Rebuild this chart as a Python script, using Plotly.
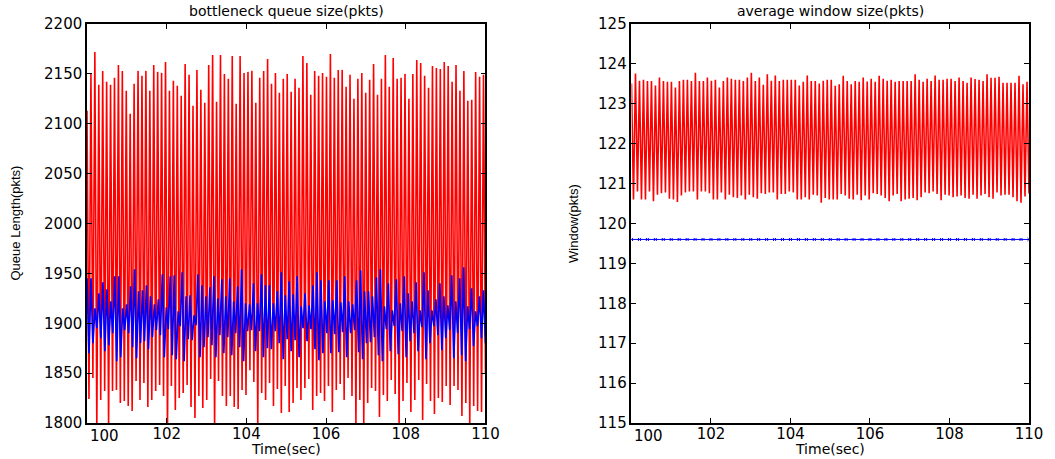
import plotly.graph_objects as go

# ---------------- data ----------------
# left panel: bottleneck queue, red series (peaks / troughs per ~0.1 s cycle)
queue_red_peaks = [2113, 2150, 2172, 2139, 2153, 2142, 2139, 2146, 2159, 2153, 2133, 2110, 2140, 2153, 2148,
                   2153, 2133, 2159, 2152, 2151, 2162, 2133, 2143, 2138, 2128, 2160, 2149, 2118, 2154, 2134,
                   2121, 2159, 2169, 2122, 2169, 2150, 2145, 2168, 2120, 2168, 2151, 2152, 2153, 2121, 2146,
                   2153, 2165, 2140, 2151, 2131, 2145, 2150, 2132, 2145, 2136, 2168, 2161, 2129, 2153, 2148,
                   2151, 2147, 2170, 2146, 2154, 2154, 2137, 2149, 2125, 2145, 2151, 2131, 2144, 2160, 2129,
                   2145, 2169, 2137, 2166, 2145, 2146, 2150, 2125, 2150, 2164, 2161, 2148, 2136, 2158, 2156,
                   2155, 2162, 2158, 2142, 2159, 2133, 2153, 2123, 2124, 2152, 2147, 2149]
queue_red_troughs = [1824, 1845, 1795, 1823, 1832, 1796, 1832, 1833, 1820, 1822, 1817, 1812, 1842, 1823, 1840,
                     1816, 1823, 1832, 1838, 1827, 1790, 1837, 1813, 1825, 1830, 1838, 1816, 1805, 1827, 1815,
                     1823, 1844, 1795, 1842, 1827, 1817, 1827, 1816, 1814, 1833, 1828, 1853, 1841, 1797, 1830,
                     1823, 1840, 1817, 1834, 1810, 1837, 1811, 1820, 1835, 1823, 1835, 1844, 1813, 1827, 1830,
                     1822, 1837, 1811, 1833, 1839, 1823, 1845, 1827, 1798, 1823, 1799, 1820, 1835, 1832, 1806,
                     1828, 1822, 1843, 1829, 1797, 1822, 1840, 1811, 1823, 1843, 1803, 1839, 1822, 1809, 1825,
                     1821, 1837, 1818, 1837, 1833, 1807, 1820, 1796, 1817, 1812, 1811, 1850]
# left panel: blue series
queue_blue_peaks = [1945, 1945, 1915, 1930, 1941, 1934, 1922, 1947, 1947, 1915, 1919, 1937, 1954, 1932, 1933,
                    1938, 1927, 1919, 1924, 1949, 1916, 1947, 1948, 1912, 1951, 1927, 1928, 1908, 1949, 1938,
                    1927, 1936, 1947, 1925, 1944, 1927, 1945, 1922, 1937, 1954, 1920, 1919, 1940, 1920, 1949,
                    1938, 1938, 1920, 1932, 1951, 1928, 1942, 1929, 1947, 1917, 1930, 1918, 1938, 1951, 1943,
                    1922, 1943, 1923, 1943, 1921, 1947, 1922, 1919, 1943, 1953, 1932, 1932, 1927, 1946, 1954,
                    1917, 1940, 1913, 1944, 1920, 1947, 1930, 1922, 1941, 1913, 1951, 1933, 1913, 1924, 1940,
                    1927, 1918, 1948, 1922, 1945, 1956, 1917, 1935, 1912, 1927, 1933]
queue_blue_troughs = [1870, 1880, 1895, 1885, 1872, 1878, 1890, 1862, 1866, 1893, 1890, 1876, 1865, 1880, 1882,
                      1874, 1886, 1893, 1888, 1866, 1894, 1868, 1864, 1897, 1862, 1884, 1883, 1898, 1866, 1876,
                      1886, 1878, 1866, 1888, 1870, 1886, 1868, 1890, 1876, 1862, 1892, 1893, 1872, 1892, 1866,
                      1875, 1874, 1892, 1880, 1864, 1884, 1872, 1883, 1866, 1895, 1882, 1894, 1874, 1863, 1870,
                      1890, 1870, 1889, 1871, 1891, 1866, 1890, 1893, 1871, 1864, 1880, 1881, 1886, 1868, 1862,
                      1894, 1872, 1897, 1869, 1892, 1866, 1882, 1890, 1872, 1896, 1864, 1880, 1897, 1888, 1873,
                      1885, 1893, 1865, 1890, 1868, 1862, 1894, 1877, 1897, 1885, 1880]
# right panel: average window, red series
win_red_peaks = [123.51, 123.76, 123.58, 123.60, 123.57, 123.57, 123.46, 123.66, 123.57, 123.55, 123.55, 123.41,
                 123.57, 123.60, 123.60, 123.57, 123.78, 123.57, 123.57, 123.66, 123.58, 123.60, 123.41, 123.57,
                 123.66, 123.63, 123.60, 123.60, 123.57, 123.66, 123.78, 123.57, 123.66, 123.48, 123.74, 123.58,
                 123.71, 123.57, 123.60, 123.60, 123.60, 123.60, 123.46, 123.55, 123.71, 123.57, 123.57, 123.51,
                 123.58, 123.60, 123.60, 123.45, 123.49, 123.70, 123.57, 123.49, 123.57, 123.55, 123.66, 123.56,
                 123.63, 123.55, 123.70, 123.63, 123.58, 123.60, 123.55, 123.57, 123.57, 123.57, 123.57, 123.74,
                 123.60, 123.55, 123.63, 123.57, 123.71, 123.60, 123.60, 123.63, 123.63, 123.57, 123.66, 123.57,
                 123.53, 123.66, 123.62, 123.60, 123.57, 123.74, 123.65, 123.65, 123.68, 123.53, 123.53, 123.53,
                 123.53, 123.70, 123.49, 123.55]
win_red_troughs = [120.60, 120.80, 120.60, 120.60, 120.80, 120.56, 120.72, 120.76, 120.78, 120.62, 120.60, 120.54,
                   120.70, 120.78, 120.80, 120.80, 120.60, 120.80, 120.80, 120.76, 120.60, 120.60, 120.78, 120.60,
                   120.72, 120.66, 120.64, 120.70, 120.60, 120.72, 120.66, 120.62, 120.76, 120.74, 120.78, 120.78,
                   120.60, 120.74, 120.74, 120.80, 120.78, 120.60, 120.60, 120.66, 120.60, 120.72, 120.70, 120.52,
                   120.64, 120.60, 120.60, 120.60, 120.74, 120.70, 120.62, 120.60, 120.72, 120.58, 120.70, 120.60,
                   120.76, 120.74, 120.70, 120.64, 120.56, 120.70, 120.74, 120.56, 120.60, 120.62, 120.64, 120.58,
                   120.66, 120.78, 120.76, 120.80, 120.74, 120.58, 120.72, 120.70, 120.66, 120.68, 120.70, 120.64,
                   120.62, 120.72, 120.62, 120.70, 120.74, 120.66, 120.62, 120.78, 120.70, 120.72, 120.72, 120.66,
                   120.56, 120.52, 120.68, 120.75]
# right panel: blue window (flat)
win_blue = [119.60] * 51

t_start, t_end = 100.0, 110.0
x_ticks = [100, 102, 104, 106, 108, 110]
x_tick_labels = ["", "102", "104", "106", "108", "110"]
first_x_label = "100"
left_y_ticks = [1800, 1850, 1900, 1950, 2000, 2050, 2100, 2150, 2200]
right_y_ticks = [115, 116, 117, 118, 119, 120, 121, 122, 123, 124, 125]


def alternate(peaks, troughs):
    n = min(len(peaks), len(troughs))
    vals = []
    for i in range(n):
        vals.append(peaks[i])
        vals.append(troughs[i])
    step = (t_end - t_start) / (2 * n - 1)
    times = [t_start + k * step for k in range(2 * n)]
    return times, vals


fig = go.Figure()

tx, ty = alternate(queue_red_peaks, queue_red_troughs)
fig.add_trace(go.Scatter(x=tx, y=ty, mode="lines", line=dict(color="#ff0000", width=1.6),
                         xaxis="x", yaxis="y", showlegend=False))
bx, by = alternate(queue_blue_peaks, queue_blue_troughs)
fig.add_trace(go.Scatter(x=bx, y=by, mode="lines", line=dict(color="#0000ff", width=1.7),
                         xaxis="x", yaxis="y", showlegend=False))

rx, ry = alternate(win_red_peaks, win_red_troughs)
fig.add_trace(go.Scatter(x=rx, y=ry, mode="lines", line=dict(color="#ff0000", width=1.6),
                         xaxis="x2", yaxis="y2", showlegend=False))
wb_step = (t_end - t_start) / (len(win_blue) - 1)
fig.add_trace(go.Scatter(x=[t_start + i * wb_step for i in range(len(win_blue))], y=win_blue,
                         mode="lines+markers", line=dict(color="#0000ff", width=1),
                         marker=dict(symbol="x-thin", size=3, color="#0000ff", line=dict(width=1, color="#0000ff")),
                         xaxis="x2", yaxis="y2", showlegend=False))

tick_font = dict(family="DejaVu Sans", size=15, color="black")
axis_common = dict(showline=True, linecolor="black", linewidth=1.5, mirror="ticks", ticks="inside",
                   ticklen=5, tickcolor="black", showgrid=False, zeroline=False, tickfont=tick_font)

fig.update_layout(
    width=1055, height=459,
    margin=dict(l=87, r=20, t=24, b=36),
    paper_bgcolor="white", plot_bgcolor="white",
    xaxis=dict(domain=[0, 0.423], range=[t_start, t_end], tickvals=x_ticks, ticktext=x_tick_labels,
               anchor="y", ticklabelstandoff=-4, **axis_common),
    yaxis=dict(range=[1800, 2200], tickvals=left_y_ticks, anchor="x", **axis_common),
    xaxis2=dict(domain=[0.578, 1], range=[t_start, t_end], tickvals=x_ticks, ticktext=x_tick_labels,
                anchor="y2", ticklabelstandoff=-4, **axis_common),
    yaxis2=dict(range=[115, 125], tickvals=right_y_ticks, anchor="x2", **axis_common),
)

# first x tick label, left-aligned at the axis start (as in the reference)
for xr in ("x", "x2"):
    fig.add_annotation(text=first_x_label, xref=xr, yref="paper", x=t_start, y=0, xanchor="left",
                       yanchor="middle", yshift=-13, xshift=1, showarrow=False, font=tick_font)

ann_font = dict(family="DejaVu Sans", size=14, color="black")
fig.add_annotation(text="bottleneck queue size(pkts)", xref="x domain", yref="paper", x=0.5, y=1,
                   yshift=13, showarrow=False, font=ann_font, yanchor="middle")
fig.add_annotation(text="average window size(pkts)", xref="x2 domain", yref="paper", x=0.5, y=1,
                   yshift=13, showarrow=False, font=ann_font, yanchor="middle")
time_font = dict(family="DejaVu Sans", size=14, color="black")
fig.add_annotation(text="Time(sec)", xref="x domain", yref="paper", x=0.5, y=0,
                   yshift=-26, showarrow=False, font=time_font, yanchor="middle")
fig.add_annotation(text="Time(sec)", xref="x2 domain", yref="paper", x=0.5, y=0,
                   yshift=-26, showarrow=False, font=time_font, yanchor="middle")
fig.add_annotation(text="Queue Length(pkts)", xref="x domain", yref="y domain", x=0, y=0.5,
                   xshift=-72, showarrow=False, textangle=-90,
                   font=dict(family="Liberation Sans", size=13, color="black"), xanchor="center")
fig.add_annotation(text="Window(pkts)", xref="x2 domain", yref="y2 domain", x=0, y=0.5,
                   xshift=-58, showarrow=False, textangle=-90,
                   font=dict(family="Liberation Sans", size=13, color="black"), xanchor="center")

fig.write_html("out.html", config={"displayModeBar": False},
               post_script="document.body.style.margin='0px';")
